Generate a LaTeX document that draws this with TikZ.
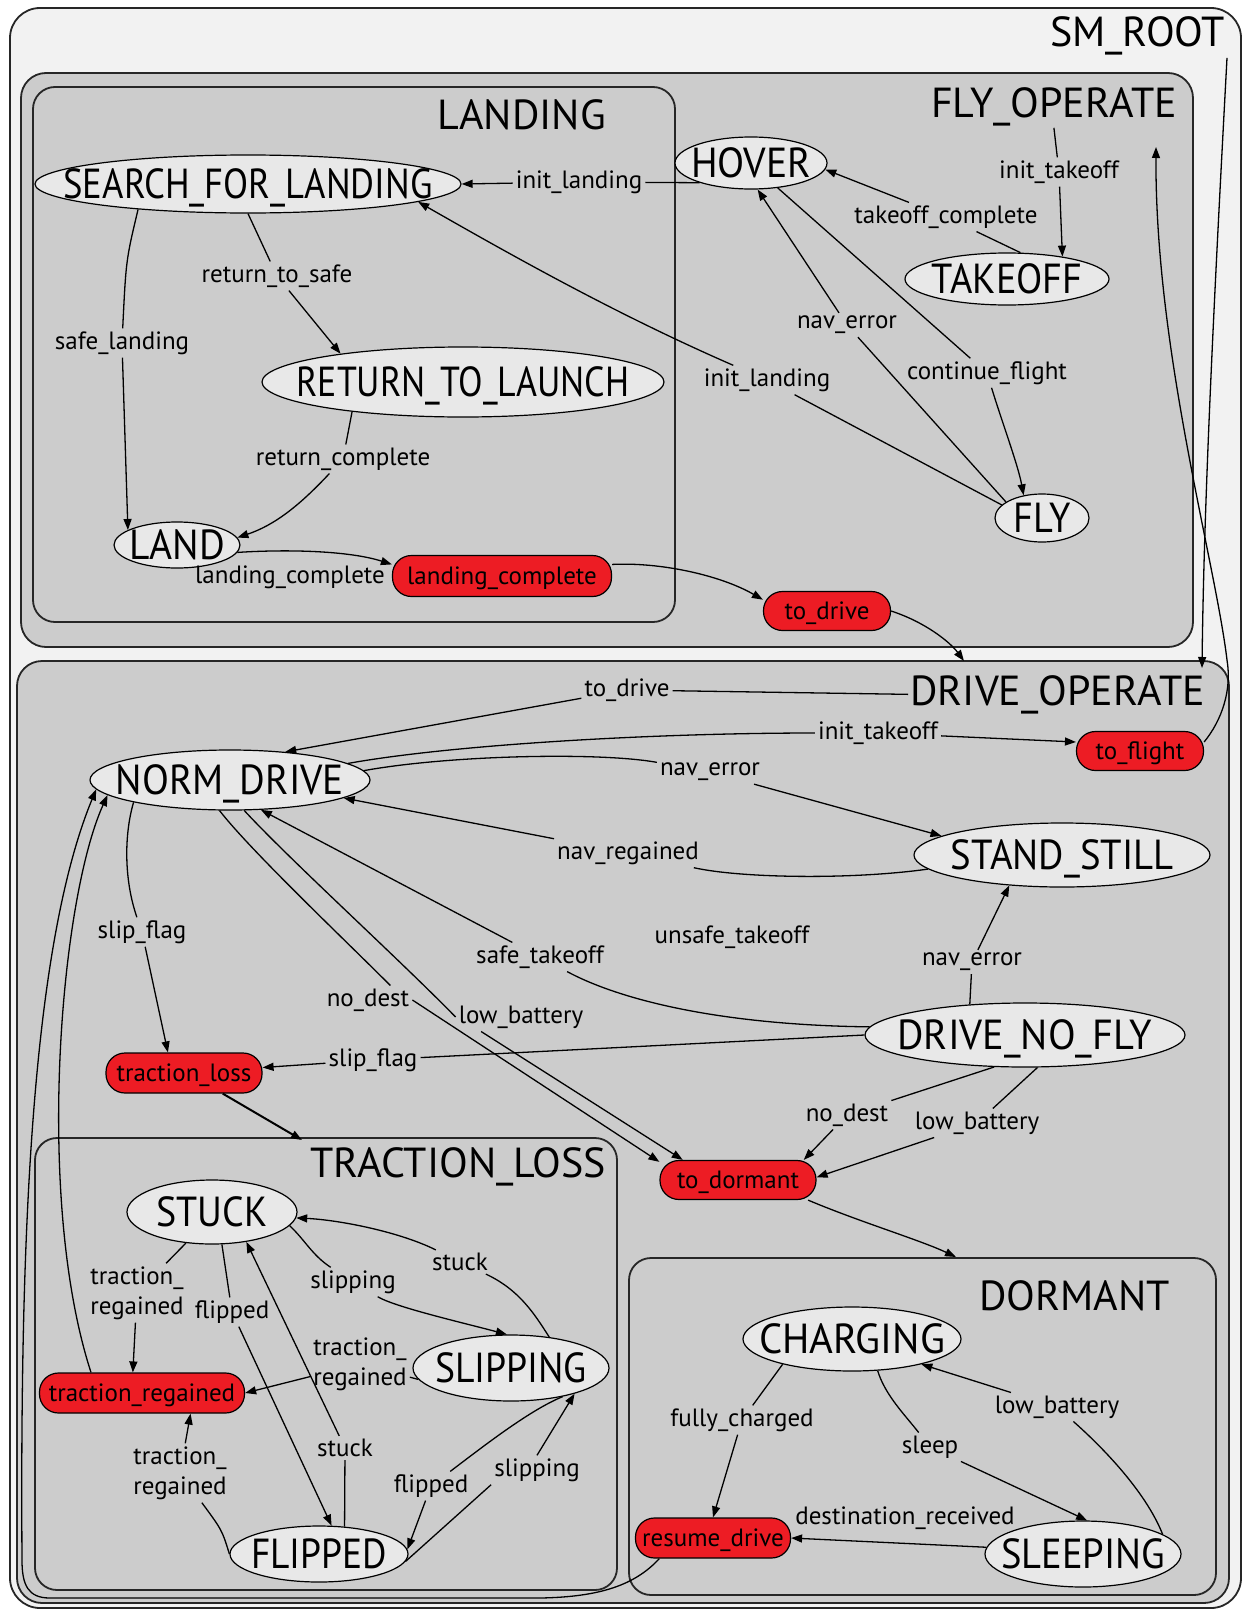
\documentclass[tikz,border=0pt]{standalone}
\usepackage{fontspec}
\usepackage{graphicx}
\setmainfont{PT Sans}
\usetikzlibrary{arrows.meta,shapes.geometric}
\definecolor{rootbg}{HTML}{F2F2F2}
\definecolor{boxbg}{HTML}{CCCCCC}
\definecolor{statebg}{HTML}{E8E8E8}
\definecolor{actred}{HTML}{ED1C24}
% text of zero size, centred on the node centre
\newcommand{\zerobox}[1]{\raisebox{-0.35em}[0pt][0pt]{\makebox[0pt]{#1}}}
% state name set to a given width
\newcommand{\sname}[2]{\zerobox{\resizebox{#1}{\height}{#2}}}
\begin{document}
\begin{tikzpicture}[x=1pt,y=-1pt,
  box/.style={draw=black!85, line width=1.8pt},
  title/.style={font=\fontsize{42}{42}\selectfont, inner sep=2pt, anchor=base east},
  state/.style={ellipse, draw, line width=1.2pt, fill=statebg, inner sep=0pt,
    font=\fontsize{42}{42}\selectfont},
  act/.style={draw, line width=1.2pt, fill=actred, rounded corners=19pt, inner sep=0pt,
    font=\fontsize{25}{25}\selectfont},
  lbl/.style={inner sep=3pt, font=\fontsize{25}{30}\selectfont, align=center},
  ln/.style={line width=1.3pt},
  arr/.style={line width=1.3pt, -{Triangle[length=11pt,width=8pt]}},
]
\useasboundingbox (0,0) rectangle (1244,1611);

% ---------- containers ----------
\draw[box, fill=rootbg, rounded corners=30pt] (10,8) rectangle (1241,1608);
\draw[box, fill=boxbg, rounded corners=25pt] (21,73) rectangle (1193,647);
\draw[box, fill=boxbg, rounded corners=22pt] (33,87) rectangle (675,622);
\draw[box, fill=boxbg, rounded corners=25pt] (17,661) rectangle (1229,1603);
\draw[box, fill=boxbg, rounded corners=22pt] (35,1138) rectangle (617,1590);
\draw[box, fill=boxbg, rounded corners=22pt] (629,1258) rectangle (1216,1595);

\node[title] (troot)  at (1227,47)   {SM\_ROOT};
\node[title] (tfly)   at (1179,117)  {FLY\_OPERATE};
\node[title] (tland)  at (608,129)   {LANDING};
\node[title] (tdrive) at (1207,705)  {DRIVE\_OPERATE};
\node[title] (ttrac)  at (608,1177)  {TRACTION\_LOSS};
\node[title] (tdorm)  at (1172,1310) {DORMANT};

\coordinate (driveIn)   at (964,661);
\coordinate (flyIn)     at (1156,147);
\coordinate (driveInit) at (1202,668);
\coordinate (tlIn)      at (302,1140);
\coordinate (dormIn)    at (956,1257);

% ---------- states ----------
\node[state, minimum width=426pt, minimum height=58pt] (sfl)     at (248,184)  {\sname{369pt}{SEARCH\_FOR\_LANDING}};
\node[state, minimum width=152pt, minimum height=52pt] (hover)   at (751,163)  {\sname{120pt}{HOVER}};
\node[state, minimum width=204pt, minimum height=52pt] (takeoff) at (1007,279) {\sname{151pt}{TAKEOFF}};
\node[state, minimum width=402pt, minimum height=70pt] (rtl)     at (463,382)  {\sname{333pt}{RETURN\_TO\_LAUNCH}};
\node[state, minimum width=94pt,  minimum height=48pt] (fly)     at (1042,518) {\sname{57pt}{FLY}};
\node[state, minimum width=126pt, minimum height=46pt] (land)    at (177,545)  {\sname{96pt}{LAND}};
\node[state, minimum width=280pt, minimum height=60pt] (norm)    at (230,780)  {\sname{228pt}{NORM\_DRIVE}};
\node[state, minimum width=296pt, minimum height=64pt] (stand)   at (1062,855) {\sname{223pt}{STAND\_STILL}};
\node[state, minimum width=320pt, minimum height=64pt] (dnf)     at (1025,1035){\sname{255pt}{DRIVE\_NO\_FLY}};
\node[state, minimum width=170pt, minimum height=64pt] (stuck)   at (212,1212) {\sname{111pt}{STUCK}};
\node[state, minimum width=196pt, minimum height=66pt] (slipping) at (511,1368){\sname{152pt}{SLIPPING}};
\node[state, minimum width=178pt, minimum height=56pt] (flipped) at (319,1554) {\sname{136pt}{FLIPPED}};
\node[state, minimum width=218pt, minimum height=64pt] (charging) at (852,1339){\sname{186pt}{CHARGING}};
\node[state, minimum width=196pt, minimum height=66pt] (sleeping) at (1083,1554){\sname{164pt}{SLEEPING}};

% ---------- red action nodes ----------
\node[act, minimum width=219pt, minimum height=41pt] (lc)        at (502,576)  {\zerobox{landing\_complete}};
\node[act, minimum width=127pt, minimum height=39pt] (todrive)   at (827,611)  {\zerobox{to\_drive}};
\node[act, minimum width=127pt, minimum height=39pt] (toflight)  at (1140,751) {\zerobox{to\_flight}};
\node[act, minimum width=156pt, minimum height=40pt] (tloss)     at (184,1073) {\zerobox{traction\_loss}};
\node[act, minimum width=156pt, minimum height=39pt] (todormant) at (738,1180) {\zerobox{to\_dormant}};
\node[act, minimum width=205pt, minimum height=40pt] (treg)      at (142,1393) {\zerobox{traction\_regained}};
\node[act, minimum width=155pt, minimum height=40pt] (resume)    at (713,1538) {\zerobox{resume\_drive}};

% ---------- transition labels ----------
\node[lbl] (L1)  at (579,182)   {init\_landing};
\node[lbl] (L2)  at (946,217)   {takeoff\_complete};
\node[lbl] (L3)  at (1059,172)  {init\_takeoff};
\node[lbl] (L4)  at (987,373)   {continue\_flight};
\node[lbl] (L5)  at (847,325)   {nav\_error};
\node[lbl] (L6)  at (767,380)   {init\_landing};
\node[lbl] (L7)  at (277,276)   {return\_to\_safe};
\node[lbl] (L8)  at (122,343)   {safe\_landing};
\node[lbl] (L9)  at (343,459)   {return\_complete};
\node[lbl] (L10) at (290,577)   {landing\_complete};
\node[lbl] (L11) at (627,690)   {to\_drive};
\node[lbl] (L12) at (878,733)   {init\_takeoff};
\node[lbl] (L13) at (710,772)   {nav\_error};
\node[lbl] (L14) at (628,853)   {nav\_regained};
\node[lbl] (L15) at (540,957)   {safe\_takeoff};
\node[lbl] (L16) at (732,937)   {unsafe\_takeoff};
\node[lbl] (L17) at (972,962)   {nav\_error};
\node[lbl] (L18) at (373,1060)  {slip\_flag};
\node[lbl] (L19) at (142,932)   {slip\_flag};
\node[lbl] (L20) at (368,1000)  {no\_dest};
\node[lbl] (L21) at (521,1017)  {low\_battery};
\node[lbl] (L22) at (847,1115)  {no\_dest};
\node[lbl] (L23) at (977,1123)  {low\_battery};
\node[lbl] (L24) at (137,1293)  {traction\_\\regained};
\node[lbl] (L25) at (232,1312)  {flipped};
\node[lbl] (L26) at (345,1448)  {stuck};
\node[lbl] (L27) at (460,1262)  {stuck};
\node[lbl] (L28) at (353,1282)  {slipping};
\node[lbl] (L29) at (360,1364)  {traction\_\\regained};
\node[lbl] (L30) at (180,1473)  {traction\_\\regained};
\node[lbl] (L31) at (537,1470)  {slipping};
\node[lbl] (L32) at (431,1486)  {flipped};
\node[lbl] (L33) at (742,1420)  {fully\_charged};
\node[lbl] (L34) at (930,1447)  {sleep};
\node[lbl] (L35) at (1057,1407) {low\_battery};
\node[lbl] (L36) at (905,1518)  {destination\_received};

% ---------- FLY_OPERATE transitions ----------
\draw[ln] (hover.201) -- (L1);
\draw[arr] (L1) -- (sfl.east);
\draw[ln] (takeoff.63) -- (L2);
\draw[arr] (L2) -- (hover.-5);
\draw[ln] (tfly.south) -- (L3);
\draw[arr] (L3) -- (takeoff.22);
\draw[ln] (hover.-43) -- (L4);
\draw[arr] (L4) .. controls (1003,425) and (1018,465) .. (fly.129);
\draw[ln] (fly.156) -- (L5);
\draw[arr] (L5) -- (hover.-76);
\draw[ln] (fly.162) -- (L6);
\draw[arr] (L6) .. controls (620,316) and (518,259) .. (sfl.-6);

% ---------- LANDING transitions ----------
\draw[ln] (sfl.south) -- (L7);
\draw[arr] (L7) -- (rtl.167);
\draw[ln] (sfl.193) .. controls (126,260) .. (L8);
\draw[arr] (L8) -- (land.163);
\draw[ln] (rtl.195) -- (L9);
\draw[arr] (L9) .. controls (300,505) and (275,525) .. (land.7);
\draw[arr] (land.-7) .. controls (290,549) and (350,551) .. (lc.174);
\draw[arr] (lc.6) .. controls (660,562) and (720,575) .. (todrive.170);
\draw[arr] (todrive.east) .. controls (925,622) and (950,642) .. (driveIn);
\draw[arr] (toflight.8) .. controls (1222,720) and (1232,690) .. (1227,660)
           .. controls (1215,560) and (1155,350) .. (flyIn);
\draw[arr] (troot.south east) .. controls (1214,300) and (1204,500) .. (driveInit);

% ---------- DRIVE_OPERATE transitions ----------
\draw[ln] (tdrive.west) -- (L11);
\draw[arr] (L11) -- (norm.27);
\draw[ln] (norm.8) .. controls (450,745) and (650,733) .. (L12);
\draw[arr] (L12) -- (toflight.172);
\draw[ln] (norm.4) .. controls (450,755) and (600,752) .. (L13);
\draw[arr] (L13) -- (stand.171);
\draw[ln] (stand.186) .. controls (850,880) and (740,878) .. (L14);
\draw[arr] (L14) -- (norm.-9);
\draw[ln] (dnf.177) .. controls (720,1025) and (620,1000) .. (L15);
\draw[arr] (L15) -- (norm.-44);
\draw[ln] (dnf.151) -- (L17);
\draw[arr] (L17) -- (stand.210);
\draw[ln] (dnf.west) -- (L18);
\draw[arr] (L18) -- (tloss.4);
\draw[ln] (norm.193) .. controls (124,835) and (124,880) .. (L19);
\draw[arr] (L19) -- (tloss.128);
\draw[arr, line width=2pt] (tloss.-28) -- (tlIn);
\draw[ln] (norm.-109) .. controls (250,850) and (345,940) .. (L20.33);
\draw[arr] (L20.east) -- (todormant.167);
\draw[ln] (norm.-65) .. controls (290,860) and (400,960) .. (L21.west);
\draw[arr] (L21.-160) -- (todormant.160);
\draw[ln] (dnf.226) -- (L22);
\draw[arr] (L22) -- (todormant.17);
\draw[ln] (dnf.-69) -- (L23);
\draw[arr] (L23) -- (todormant.2);
\draw[arr] (todormant.-16) .. controls (860,1222) and (920,1240) .. (dormIn);

% ---------- TRACTION_LOSS transitions ----------
\draw[ln] (stuck.230) -- (L24);
\draw[arr] (L24) -- (treg.114);
\draw[ln] (stuck.-73) -- (L25);
\draw[arr] (L25) -- (flipped.66);
\draw[ln] (flipped.47) -- (L26);
\draw[arr] (L26) -- (stuck.-41);
\draw[ln] (slipping.39) .. controls (535,1315) and (520,1290) .. (L27);
\draw[arr] (L27) .. controls (400,1232) and (340,1220) .. (stuck.-4);
\draw[ln] (stuck.-10) .. controls (305,1240) and (312,1255) .. (L28);
\draw[arr] (L28) .. controls (395,1307) and (460,1322) .. (slipping.97);
\draw[ln] (slipping.187) -- (L29);
\draw[arr] (L29) -- (treg.east);
\draw[ln] (flipped.west) .. controls (222,1530) .. (L30);
\draw[arr] (L30) -- (treg.-23);
\draw[ln] (flipped.-5) -- (L31.south west);
\draw[arr] (L31.north) -- (slipping.-22);
\draw[ln] (slipping.-29) .. controls (530,1410) and (485,1445) .. (L32);
\draw[arr] (L32) -- (flipped.3);
\draw[arr] (treg.158) .. controls (35,1200) and (60,900) .. (norm.187);
\draw[arr] (resume.201) .. controls (635,1585) and (600,1597) .. (540,1598) -- (50,1598)
           .. controls (28,1598) and (22,1585) .. (22,1560)
           .. controls (20,1250) and (30,950) .. (norm.184);

% ---------- DORMANT transitions ----------
\draw[ln] (charging.200) -- (L33);
\draw[arr] (L33) -- (resume.north);
\draw[ln] (charging.-51) .. controls (885,1395) and (905,1415) .. (L34);
\draw[arr] (L34) -- (sleeping.83);
\draw[ln] (sleeping.14) .. controls (1145,1490) and (1100,1445) .. (L35);
\draw[arr] (L35) -- (charging.-20);
\draw[arr] (sleeping.176) -- (resume.east);
\end{tikzpicture}
\end{document}
